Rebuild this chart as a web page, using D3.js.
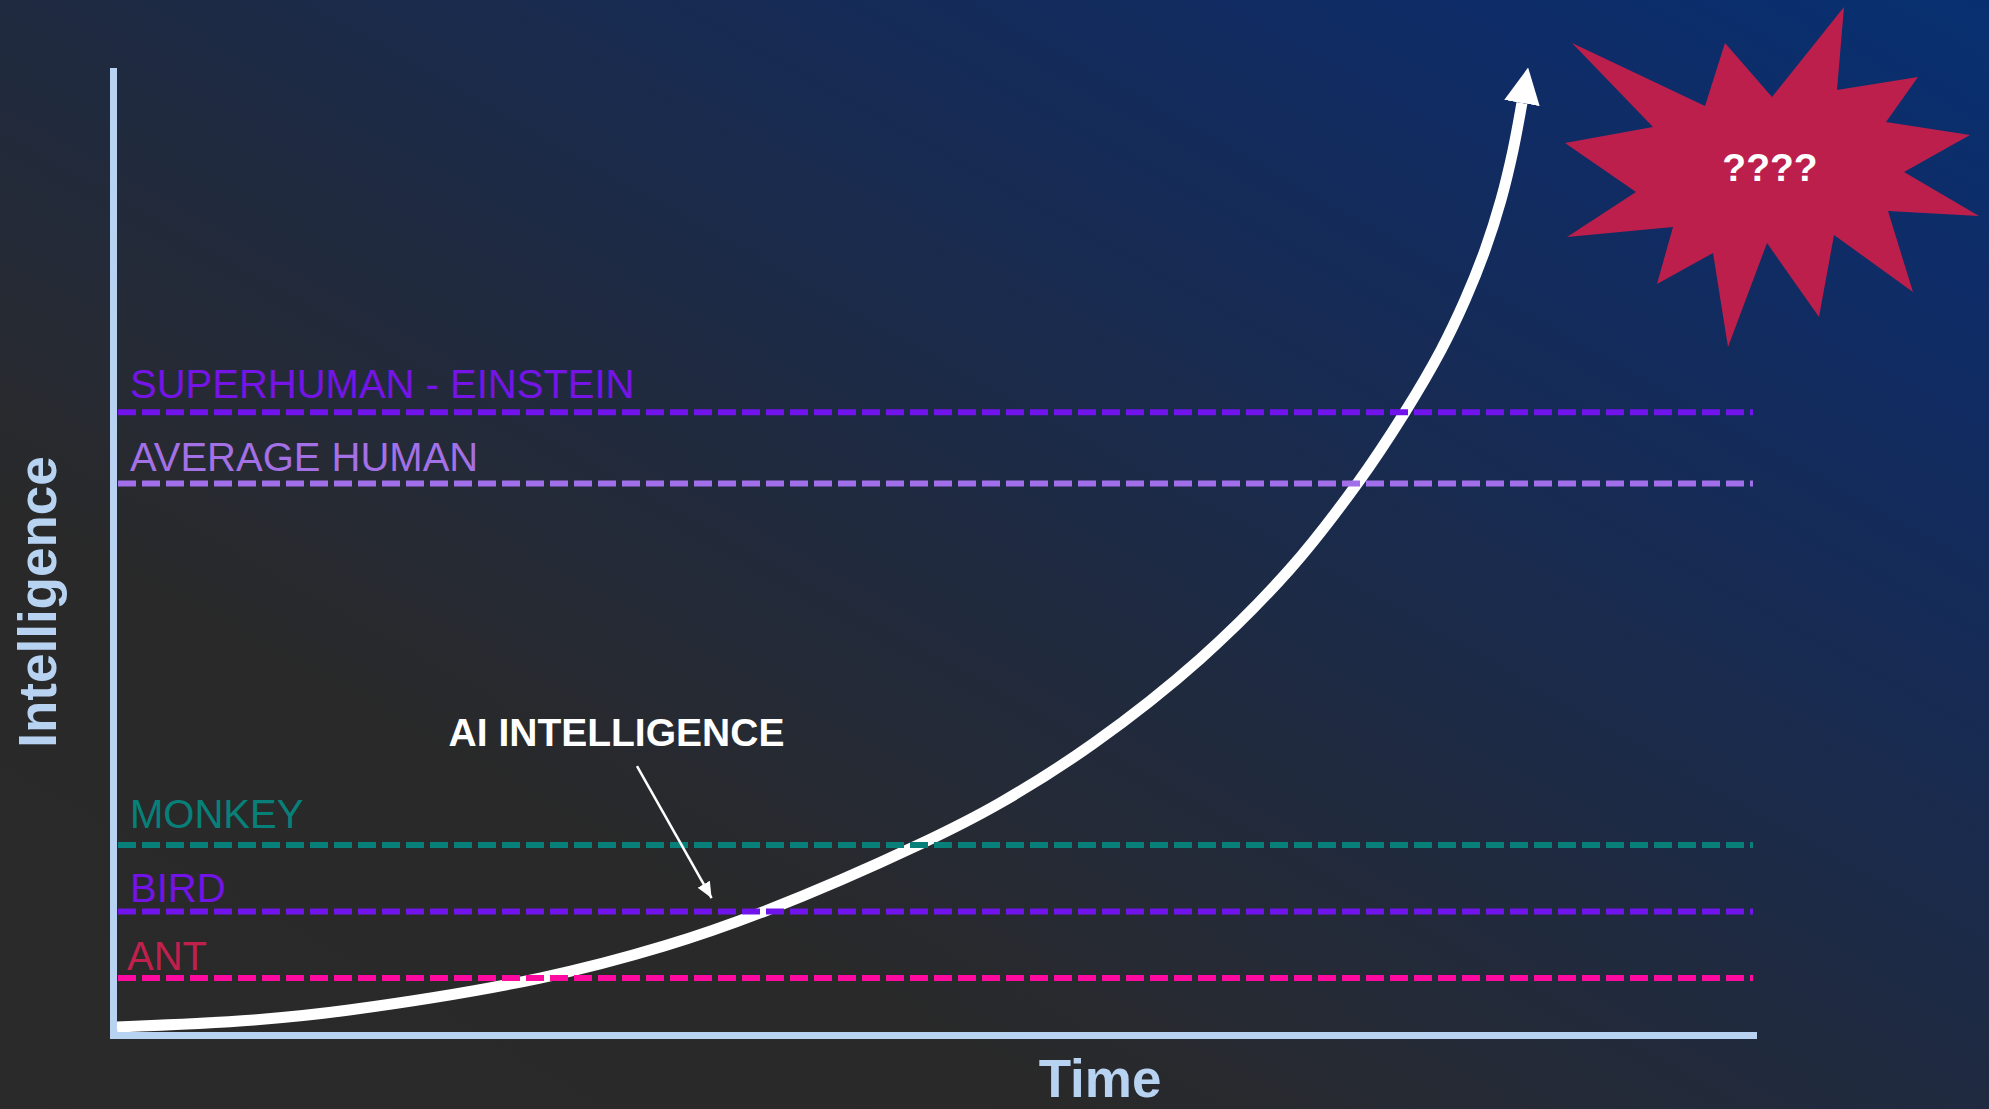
<!DOCTYPE html>
<html>
<head>
<meta charset="utf-8">
<title>AI intelligence over time</title>
<script src="https://cdn.jsdelivr.net/npm/d3@7"></script>
<style>
  html, body { margin: 0; padding: 0; background: #292929; overflow: hidden; }
  svg { display: block; }
  .level-label { font-family: "Liberation Sans", Arial, sans-serif; font-size: 40px; }
  .axis-title { font-family: "Liberation Sans", Arial, sans-serif; font-size: 53px; font-weight: bold; fill: #b8d3f1; }
  .axis .domain { stroke: #b8d3f1; stroke-width: 7px; }
  .note { font-family: "Liberation Sans", Arial, sans-serif; font-weight: bold; fill: #fff; }
</style>
</head>
<body>
<svg id="chart"></svg>
<script>
// reference levels (intelligence, 0-100)
var levelNames = ['SUPERHUMAN - EINSTEIN', 'AVERAGE HUMAN', 'MONKEY', 'BIRD', 'ANT'];
var levelValues = [64.6, 57.2, 19.7, 12.8, 5.9];
var levelLineColors = ['#7114eb', '#a16fe9', '#088079', '#7114eb', '#ff0aa1'];
var levelTextColors = ['#7414e7', '#a370e6', '#08807a', '#7214e8', '#c1204c'];
var labelLift = [14, 13, 17, 10, 8];   // px above each line

// AI intelligence curve
var timeValues = [0.24, 8.60, 14.39, 26.04, 33.60, 39.76, 49.09, 54.09, 59.82, 66.28,
                  71.77, 75.85, 78.78, 80.98, 82.44, 83.66, 84.63, 85.37, 85.91];
var aiValues   = [0.83, 1.56, 2.59, 5.91, 9.23, 12.86, 19.71, 24.07, 30.29, 39.00,
                  48.34, 57.16, 64.63, 71.06, 76.24, 81.43, 86.62, 91.80, 96.68];

// annotation: label + pointer to the curve
var aiLabel = 'AI INTELLIGENCE';
var aiLabelAt = [30.7, 30.0];
var aiPointerFrom = [31.95, 27.9];
var aiPointerTo = [36.5, 14.2];

var xTitle = 'Time', yTitle = 'Intelligence', burstText = '????';

// burst shape, offsets from its centre
var burstShape = [[-198,-132],[-65,-69],[-45,-132],[2,-78],[74,-168],[67,-85],[148,-98],[116,-53],
  [200,-40],[134,-3],[209,41],[118,36],[143,117],[64,60],[49,142],[-3,68],[-42,172],[-57,78],
  [-113,109],[-97,52],[-203,62],[-134,17],[-205,-32],[-117,-48]];

var width = 1989, height = 1109;
var svg = d3.select('#chart').attr('width', width).attr('height', height);

var defs = svg.append('defs');
var grad = defs.append('linearGradient').attr('id', 'bg')
  .attr('x1', 0).attr('y1', 1).attr('x2', 1).attr('y2', 0);
[[0, '#2a2a2a'], [0.27, '#292929'], [0.36, '#262a33'], [0.5, '#1f2a40'], [0.85, '#0f2c66'], [1, '#083071']]
  .forEach(function(s) { grad.append('stop').attr('offset', s[0]).attr('stop-color', s[1]); });

defs.append('marker').attr('id', 'bigHead')
  .attr('markerUnits', 'userSpaceOnUse').attr('viewBox', '0 -18 36 36')
  .attr('markerWidth', 36).attr('markerHeight', 36)
  .attr('refX', 0).attr('refY', 0).attr('orient', 'auto')
  .append('path').attr('d', 'M0,-18L36,0L0,18Z').attr('fill', '#fff');

defs.append('marker').attr('id', 'smallHead')
  .attr('markerUnits', 'userSpaceOnUse').attr('viewBox', '0 -7 16 14')
  .attr('markerWidth', 16).attr('markerHeight', 14)
  .attr('refX', 16).attr('refY', 0).attr('orient', 'auto')
  .append('path').attr('d', 'M0,-7L16,0L0,7Z').attr('fill', '#fff');

svg.append('rect').attr('width', width).attr('height', height).attr('fill', 'url(#bg)');

var x = d3.scaleLinear().domain([0, 100]).range([113, 1753]);
var y = d3.scaleLinear().domain([0, 100]).range([1035, 71]);

// AI curve (under the dashed levels)
var line = d3.line()
  .x(function(d, i) { return x(timeValues[i]); })
  .y(function(d, i) { return y(aiValues[i]); })
  .curve(d3.curveCatmullRom.alpha(0.5));

svg.append('path').datum(timeValues)
  .attr('d', line)
  .attr('fill', 'none').attr('stroke', '#fff').attr('stroke-width', 11)
  .attr('marker-end', 'url(#bigHead)');

// dashed level lines
svg.selectAll('.level').data(levelValues).enter().append('line')
  .attr('class', 'level')
  .attr('x1', x(0) + 5).attr('x2', x(100))
  .attr('y1', function(d) { return y(d); }).attr('y2', function(d) { return y(d); })
  .attr('stroke', function(d, i) { return levelLineColors[i]; })
  .attr('stroke-width', 6).attr('stroke-dasharray', '18,6');

svg.selectAll('.level-label').data(levelNames).enter().append('text')
  .attr('class', 'level-label')
  .attr('x', function(d, i) { return x(0) + (i === 4 ? 14 : 17); })
  .attr('y', function(d, i) { return y(levelValues[i]) - labelLift[i]; })
  .attr('fill', function(d, i) { return levelTextColors[i]; })
  .text(function(d) { return d; });

// axes: lines only, no ticks
svg.append('g').attr('class', 'axis')
  .attr('transform', 'translate(0,' + y(0) + ')')
  .call(d3.axisBottom(x).tickValues([]).tickSizeOuter(0));
svg.append('g').attr('class', 'axis')
  .attr('transform', 'translate(' + x(0) + ',0)')
  .call(d3.axisLeft(y).tickValues([]).tickSizeOuter(0));
svg.selectAll('.axis .domain').attr('stroke-linecap', 'square');

svg.append('text').attr('class', 'axis-title')
  .attr('x', 1100).attr('y', 1097)
  .attr('text-anchor', 'middle').text(xTitle);
svg.append('text').attr('class', 'axis-title')
  .attr('transform', 'translate(56,602) rotate(-90)')
  .attr('text-anchor', 'middle').text(yTitle);

// annotation
svg.append('text').attr('class', 'note').attr('font-size', 39)
  .attr('x', x(aiLabelAt[0])).attr('y', y(aiLabelAt[1]))
  .attr('text-anchor', 'middle').text(aiLabel);
svg.append('line')
  .attr('x1', x(aiPointerFrom[0])).attr('y1', y(aiPointerFrom[1]))
  .attr('x2', x(aiPointerTo[0])).attr('y2', y(aiPointerTo[1]))
  .attr('stroke', '#fff').attr('stroke-width', 2.5)
  .attr('marker-end', 'url(#smallHead)');

// the burst
var burst = svg.append('g').attr('transform', 'translate(1770,175)');
burst.append('path')
  .attr('d', d3.line().curve(d3.curveLinearClosed)(burstShape))
  .attr('fill', '#bd1f4c');
burst.append('text').attr('class', 'note').attr('font-size', 39)
  .attr('x', 0).attr('y', 6).attr('text-anchor', 'middle').text(burstText);
</script>
</body>
</html>
